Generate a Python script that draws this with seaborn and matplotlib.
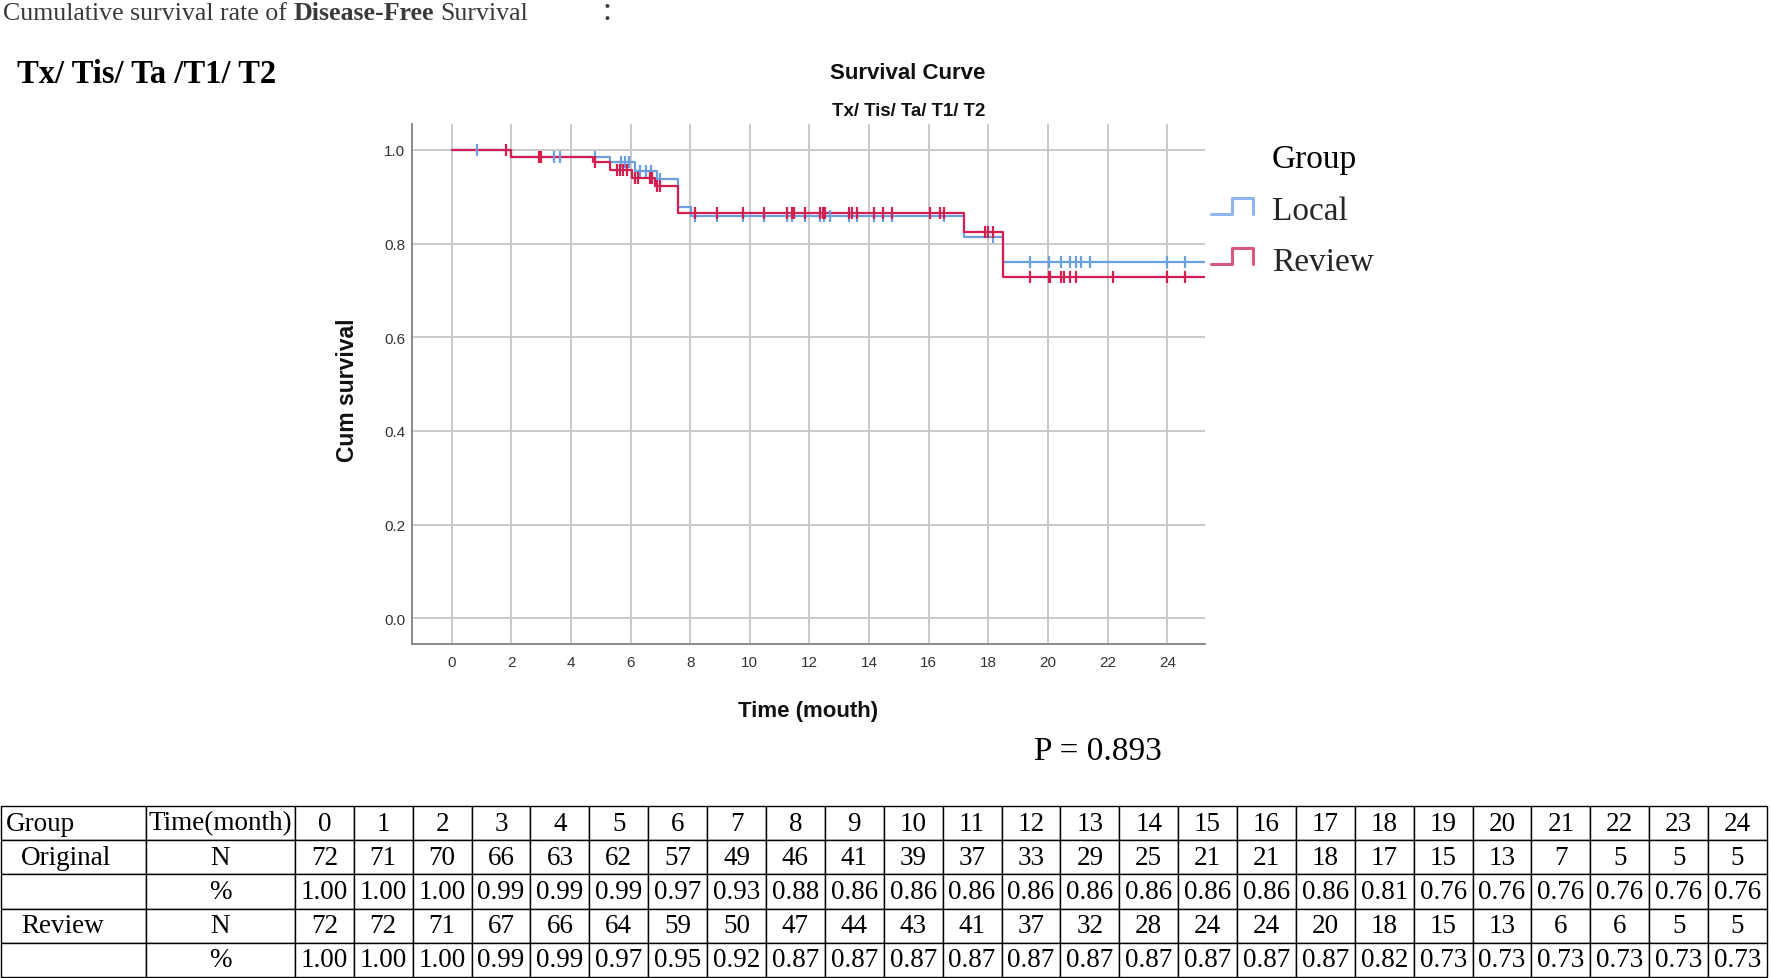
import numpy as np
import pandas as pd
import matplotlib
matplotlib.use("Agg")
import matplotlib.pyplot as plt
import seaborn as sns
from matplotlib.lines import Line2D
from matplotlib.legend_handler import HandlerBase

# ---------------- data ----------------
groups = ["Local", "Review"]

local_time = [0, 2.0, 5.31, 6.15, 6.88, 7.6, 8.02, 17.17, 18.5, 25.26]
local_surv = [1.0, 0.986, 0.974, 0.956, 0.937, 0.878, 0.859, 0.814, 0.760, 0.760]
review_time = [0, 2.0, 4.75, 5.31, 6.04, 6.82, 7.6, 17.17, 18.5, 25.26]
review_surv = [1.0, 0.986, 0.974, 0.958, 0.941, 0.924, 0.866, 0.825, 0.729, 0.729]

local_cens_time = [0.84, 3.43, 3.64, 4.79, 5.67, 5.82, 5.93, 6.3, 6.5, 6.7, 6.97,
                   8.16, 8.89, 9.77, 10.46, 11.26, 11.41, 11.86, 12.36, 12.5, 12.7,
                   13.31, 13.59, 14.17, 14.48, 14.76, 16.5, 18.17,
                   19.38, 20.02, 20.45, 20.73, 20.95, 21.11, 21.4, 24.0, 24.61]
local_cens_surv = [1.0, 0.986, 0.986, 0.986, 0.974, 0.974, 0.974, 0.956, 0.956, 0.956, 0.937,
                   0.859, 0.859, 0.859, 0.859, 0.859, 0.859, 0.859, 0.859, 0.859, 0.859,
                   0.859, 0.859, 0.859, 0.859, 0.859, 0.859, 0.814,
                   0.760, 0.760, 0.760, 0.760, 0.760, 0.760, 0.760, 0.760, 0.760]
review_cens_time = [1.81, 2.93, 2.97, 3.01, 4.79, 5.54, 5.65, 5.76, 5.87, 6.15, 6.26, 6.65, 6.71,
                    6.88, 6.99,
                    8.16, 8.89, 9.77, 10.46, 11.26, 11.41, 11.49, 11.86, 12.36, 12.45, 12.53,
                    13.31, 13.42, 13.59, 14.17, 14.48, 14.76, 16.05, 16.39, 16.5,
                    17.9, 18.0, 18.17,
                    19.38, 20.02, 20.08, 20.45, 20.52, 20.75, 20.95, 22.18, 24.0, 24.61]
review_cens_surv = [1.0, 0.986, 0.986, 0.986, 0.974, 0.958, 0.958, 0.958, 0.958, 0.941, 0.941, 0.941, 0.941,
                    0.924, 0.924,
                    0.866, 0.866, 0.866, 0.866, 0.866, 0.866, 0.866, 0.866, 0.866, 0.866, 0.866,
                    0.866, 0.866, 0.866, 0.866, 0.866, 0.866, 0.866, 0.866, 0.866,
                    0.825, 0.825, 0.825,
                    0.729, 0.729, 0.729, 0.729, 0.729, 0.729, 0.729, 0.729, 0.729, 0.729]

x_ticks = list(range(0, 25, 2))
y_ticks = [0.0, 0.2, 0.4, 0.6, 0.8, 1.0]
p_value = "P = 0.893"

table_groups = ["Original", "Review"]
table_times = list(range(25))
orig_n = [72, 71, 70, 66, 63, 62, 57, 49, 46, 41, 39, 37, 33, 29, 25, 21, 21, 18, 17, 15, 13, 7, 5, 5, 5]
orig_pct = [1.00, 1.00, 1.00, 0.99, 0.99, 0.99, 0.97, 0.93, 0.88, 0.86, 0.86, 0.86, 0.86, 0.86,
            0.86, 0.86, 0.86, 0.86, 0.81, 0.76, 0.76, 0.76, 0.76, 0.76, 0.76]
rev_n = [72, 72, 71, 67, 66, 64, 59, 50, 47, 44, 43, 41, 37, 32, 28, 24, 24, 20, 18, 15, 13, 6, 6, 5, 5]
rev_pct = [1.00, 1.00, 1.00, 0.99, 0.99, 0.97, 0.95, 0.92, 0.87, 0.87, 0.87, 0.87, 0.87, 0.87,
           0.87, 0.87, 0.87, 0.87, 0.82, 0.73, 0.73, 0.73, 0.73, 0.73, 0.73]

# ---------------- style ----------------
sns.set_theme(style="whitegrid")
plt.rcParams['font.family'] = ['Liberation Sans', 'DejaVu Sans']
SERIF = ['Liberation Serif', 'Noto Sans CJK SC', 'DejaVu Serif']
SANS = ['Liberation Sans', 'DejaVu Sans']

line_colors = {"Local": "#6b9fe0", "Review": "#d21f4f"}
legend_colors = {"Local": "#8db6ea", "Review": "#d9587e"}

W, H = 1772, 979
fig = plt.figure(figsize=(W / 100, H / 100), dpi=100)
fig.patch.set_facecolor("white")


def fx(px):
    return px / W


def fy(py):
    return 1 - py / H


ax = fig.add_axes([fx(411.7), fy(645), fx(1205) - fx(411.7), fy(125) - fy(645)])

df = pd.concat([
    pd.DataFrame({"time": local_time, "surv": local_surv, "group": "Local"}),
    pd.DataFrame({"time": review_time, "surv": review_surv, "group": "Review"}),
], ignore_index=True)

sns.lineplot(data=df, x="time", y="surv", hue="group", hue_order=groups,
             palette=line_colors, drawstyle="steps-post", estimator=None,
             sort=False, legend=False, linewidth=1.6, ax=ax)

ax.plot(local_cens_time, local_cens_surv, linestyle="none", marker="|",
        markersize=8, markeredgewidth=1.6, color=line_colors["Local"])
ax.plot(review_cens_time, review_cens_surv, linestyle="none", marker="|",
        markersize=8, markeredgewidth=1.6, color=line_colors["Review"])

ax.set_xlim(-1.3416, 25.265)
ax.set_ylim(-0.0549, 1.0555)
ax.set_xticks(x_ticks)
ax.set_yticks(y_ticks)
ax.set_yticklabels([f"{v:.1f}" for v in y_ticks])
ax.grid(True, color="#c9c9c9", linewidth=1.4)
ax.set_axisbelow(True)
for s in ["top", "right"]:
    ax.spines[s].set_visible(False)
for s in ["left", "bottom"]:
    ax.spines[s].set_color("#8a8a8a")
    ax.spines[s].set_linewidth(1.4)
ax.tick_params(axis="both", length=0, labelsize=11, labelcolor="#333333")
ax.tick_params(axis="y", pad=4.8)
ax.tick_params(axis="x", pad=8)

ax.set_xlabel("Time (mouth)", fontsize=16, fontweight="bold", color="#111111")
ax.xaxis.set_label_coords(0.5, -0.108)
ax.set_ylabel("Cum survival", fontsize=16.5, fontweight="bold", color="#111111")
ax.yaxis.set_label_coords(-0.066, 0.49)

# titles
fig.text(fx(908), fy(78.7), "Survival Curve", ha="center", va="baseline",
         fontsize=16, fontweight="bold", family=SANS, color="#111111")
fig.text(fx(909), fy(116), "Tx/ Tis/ Ta/ T1/ T2", ha="center", va="baseline",
         fontsize=13.4, fontweight="bold", family=SANS, color="#111111")


# legend with step-shaped handles
class StepHandler(HandlerBase):
    def create_artists(self, legend, orig_handle, xdescent, ydescent, width,
                       height, fontsize, trans):
        x0, y0 = -xdescent, -ydescent
        lo, hi = y0 + 0.25 * height, y0 + 0.93 * height
        xs = [x0, x0 + 0.5 * width, x0 + 0.5 * width, x0 + width, x0 + width]
        ys = [lo, lo, hi, hi, lo]
        ln = Line2D(xs, ys, color=orig_handle.get_color(),
                    linewidth=orig_handle.get_linewidth())
        ln.set_transform(trans)
        return [ln]


handles = [Line2D([], [], color=legend_colors[g], linewidth=2.2) for g in groups]
ax.legend(handles=handles, labels=groups, handler_map={Line2D: StepHandler()},
          loc="center left", bbox_to_anchor=(fx(1211), fy(237.5)),
          bbox_transform=fig.transFigure, frameon=False, borderpad=0,
          borderaxespad=0, handlelength=1.26, handletextpad=0.56,
          labelspacing=0.6, prop={"family": SERIF, "size": 24})
fig.text(fx(1271.7), fy(160), "Group", ha="left", va="center",
         fontsize=24, family=SERIF, color="black")

# header texts
gray = "#3a3a3a"
t1 = fig.text(fx(3), fy(20), "Cumulative survival rate of", ha="left", va="baseline",
              fontsize=18.6, family=SERIF, color=gray)
t2 = ax.annotate("Disease-Free", xy=(1, 0), xycoords=t1, xytext=(4.65, 0),
                 textcoords="offset points", ha="left", va="bottom",
                 fontsize=18.6, family=SERIF, fontweight="bold", color=gray,
                 annotation_clip=False)
t3 = ax.annotate("Survival", xy=(1, 0), xycoords=t2, xytext=(4.65, 0),
                 textcoords="offset points", ha="left", va="bottom",
                 fontsize=18.6, family=SERIF, color=gray, annotation_clip=False)
t4 = ax.annotate("\uff1a", xy=(1, 0), xycoords=t3, xytext=(52, 0),
                 textcoords="offset points", ha="left", va="bottom",
                 fontsize=18.6, family=SERIF, color=gray, annotation_clip=False)

fig.text(fx(17), fy(83), "Tx/ Tis/ Ta /T1/ T2", ha="left", va="baseline",
         fontsize=23.5, fontweight="bold", family=SERIF, color="black")

fig.text(fx(1034), fy(760), p_value, ha="left", va="baseline",
         fontsize=24, family=SERIF, color="black")

# table
rows = [["Group", "Time(month)"] + [str(t) for t in table_times],
        [table_groups[0], "N"] + [str(n) for n in orig_n],
        ["", "%"] + [f"{p:.2f}" for p in orig_pct],
        [table_groups[1], "N"] + [str(n) for n in rev_n],
        ["", "%"] + [f"{p:.2f}" for p in rev_pct]]
col_px = [145, 149] + [58.9] * len(table_times)
tot = sum(col_px)
tax = fig.add_axes([fx(1), fy(978), fx(1767) - fx(1), fy(807) - fy(978)])
tax.set_axis_off()
tbl = tax.table(cellText=rows, colWidths=[c / tot for c in col_px],
                cellLoc="center", bbox=[0, 0, 1, 1])
tbl.auto_set_font_size(False)
for (r, c), cell in tbl.get_celld().items():
    cell.set_edgecolor("black")
    cell.set_linewidth(1.0)
    cell.set_facecolor("white")
    txt = cell.get_text()
    txt.set_fontsize(19.5)
    txt.set_fontfamily(SERIF)
    txt.set_color("black")
    if c == 0:
        txt.set_horizontalalignment("left")
        cell.PAD = 0.032 if r == 0 else 0.138

fig.savefig("out.png", dpi=100, facecolor="white")
